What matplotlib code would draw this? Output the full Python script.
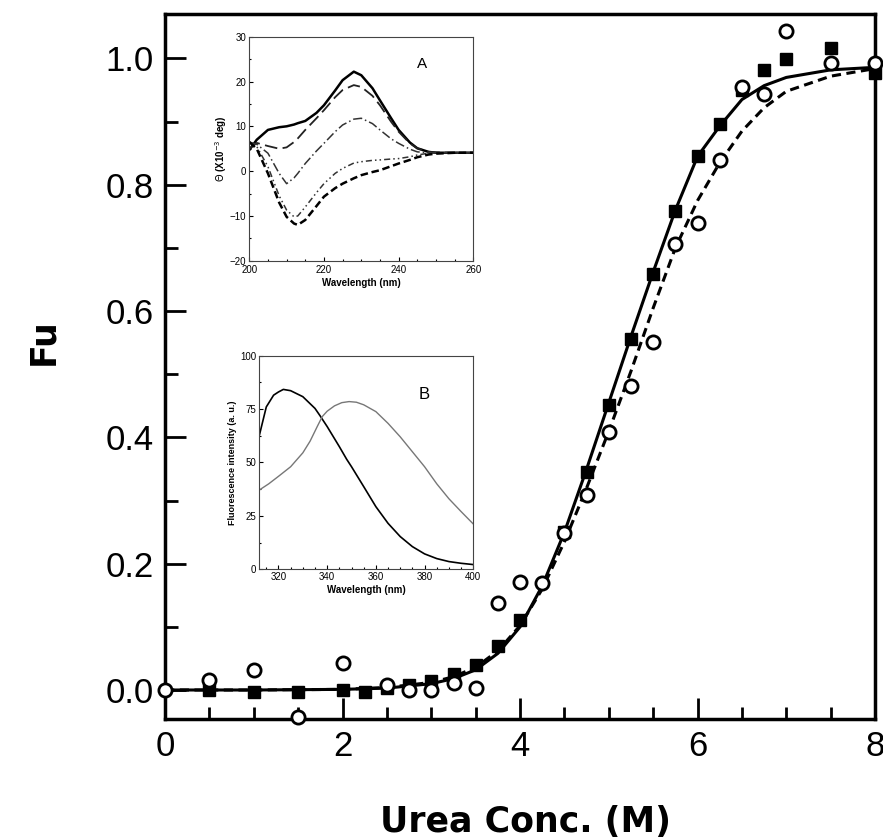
import matplotlib
matplotlib.use("Agg")
import matplotlib.pyplot as plt
from matplotlib.ticker import MultipleLocator

plt.rcParams['font.family'] = ['Liberation Sans', 'DejaVu Sans']

# ---------------- main data ----------------
urea_sq = [0.5, 1.0, 1.5, 2.0, 2.25, 2.5, 2.75, 3.0, 3.25, 3.5, 3.75, 4.0, 4.5, 4.75,
           5.0, 5.25, 5.5, 5.75, 6.0, 6.25, 6.5, 6.75, 7.0, 7.5, 8.0]
fu_sq = [0.0, -0.003, -0.003, 0.0, -0.003, 0.003, 0.008, 0.015, 0.025, 0.040, 0.069, 0.111,
         0.25, 0.345, 0.452, 0.556, 0.659, 0.759, 0.845, 0.897, 0.95, 0.981, 0.999, 1.016, 0.977]

urea_ci = [0.0, 0.5, 1.0, 1.5, 2.0, 2.5, 2.75, 3.0, 3.25, 3.5, 3.75, 4.0, 4.25, 4.5, 4.75,
           5.0, 5.25, 5.5, 5.75, 6.0, 6.25, 6.5, 6.75, 7.0, 7.5, 8.0]
fu_ci = [0.0, 0.016, 0.031, -0.042, 0.043, 0.008, 0.0, 0.0, 0.011, 0.003, 0.137, 0.171, 0.169,
         0.249, 0.309, 0.409, 0.481, 0.551, 0.707, 0.740, 0.840, 0.955, 0.944, 1.043, 0.993, 0.993]

fit_x = [0.0, 1.0, 2.0, 2.5, 3.0, 3.25, 3.5, 3.75, 4.0, 4.25, 4.5, 4.75, 5.0, 5.25, 5.5,
         5.75, 6.0, 6.25, 6.5, 6.75, 7.0, 7.5, 8.0]
fit_solid = [0.0, 0.0, 0.001, 0.003, 0.010, 0.018, 0.032, 0.058, 0.100, 0.165, 0.250, 0.350,
             0.455, 0.560, 0.662, 0.760, 0.845, 0.893, 0.935, 0.957, 0.970, 0.982, 0.986]
fit_dash = [0.0, 0.0, 0.001, 0.004, 0.012, 0.021, 0.036, 0.062, 0.102, 0.160, 0.235, 0.320,
            0.410, 0.505, 0.605, 0.700, 0.775, 0.835, 0.885, 0.922, 0.948, 0.972, 0.984]

# ---------------- inset A (CD) ----------------
cd_wl = [200, 202, 205, 208, 210, 212, 213, 215, 218, 220, 223, 225, 228, 230, 233, 235,
         238, 240, 243, 245, 248, 250, 255, 260]
cd_1 = [4.7, 7.0, 9.2, 9.8, 10.0, 10.4, 10.7, 11.2, 13.0, 14.7, 18.0, 20.3, 22.2, 21.4,
        18.5, 15.8, 11.8, 9.2, 6.4, 5.1, 4.3, 4.1, 4.1, 4.1]
cd_2 = [5.0, 6.3, 5.6, 5.0, 5.3, 6.5, 7.3, 9.2, 11.8, 13.6, 16.5, 18.1, 19.2, 18.8, 16.8,
        14.7, 11.0, 8.8, 6.2, 5.1, 4.3, 4.2, 4.1, 4.1]
cd_3 = [6.5, 6.0, 4.0, -0.5, -2.8, -1.5, -0.5, 1.7, 4.5, 6.2, 8.8, 10.3, 11.6, 11.8, 10.6,
        9.2, 7.2, 6.2, 4.9, 4.3, 4.1, 4.1, 4.1, 4.1]
cd_4 = [6.5, 5.5, 1.0, -5.5, -8.7, -10.2, -10.0, -8.0, -4.8, -2.8, -0.5, 0.6, 1.8, 2.1,
        2.4, 2.5, 2.7, 2.8, 3.2, 3.6, 4.0, 4.1, 4.1, 4.1]
cd_5 = [6.5, 5.0, -0.5, -7.0, -10.2, -11.7, -12.0, -10.9, -7.8, -5.7, -3.8, -2.8, -1.6,
        -0.9, -0.2, 0.2, 1.1, 1.7, 2.5, 3.1, 3.7, 3.9, 4.1, 4.1]

# ---------------- inset B (fluorescence) ----------------
fl_wl_n = [312, 315, 318, 320, 322, 325, 330, 335, 337, 340, 345, 348, 350, 355, 360, 365,
           370, 375, 380, 385, 390, 395, 400]
fl_native = [62, 76, 81.5, 83, 84.2, 83.6, 80.8, 75.3, 72.0, 66.8, 57.4, 51.5, 48, 38.7,
             29.3, 21.5, 15.3, 10.6, 7.2, 5.0, 3.6, 2.8, 2.2]
fl_wl_u = [312, 316, 320, 325, 330, 333, 336, 338, 340, 343, 346, 349, 352, 355, 360, 365,
           370, 375, 380, 385, 390, 395, 400]
fl_unfold = [37, 40, 43.5, 48, 54.5, 60, 67, 71.5, 74, 76.5, 78, 78.5, 78.2, 77, 73.8,
             68.3, 62, 55, 48, 40, 33, 27, 21.2]

# ================= figure =================
fig = plt.figure(figsize=(8.83, 8.40), dpi=100)
ax = fig.add_axes([0.187, 0.144, 0.804, 0.839])

ax.plot(fit_x, fit_solid, color='black', lw=2.2, zorder=2)
ax.plot(fit_x, fit_dash, color='black', lw=2.2, ls=(0, (3, 1.8)), zorder=2)
ax.plot(urea_sq, fu_sq, ls='none', marker='s', ms=8.5, mfc='black', mec='black', zorder=3,
        clip_on=False)
ax.plot(urea_ci, fu_ci, ls='none', marker='o', ms=9.5, mfc='white', mec='black', mew=2.0,
        zorder=4, clip_on=False)

ax.set_xlim(0, 8)
ax.set_ylim(-0.046, 1.07)
ax.xaxis.set_major_locator(MultipleLocator(2))
ax.xaxis.set_minor_locator(MultipleLocator(0.5))
ax.yaxis.set_major_locator(MultipleLocator(0.2))
ax.yaxis.set_minor_locator(MultipleLocator(0.1))
ax.tick_params(which='both', direction='in', top=False, right=False, width=2,
               labelsize=25, pad=8)
ax.tick_params(which='major', length=15)
ax.tick_params(which='minor', length=9)
ax.set_xticks([0, 2, 4, 6, 8])
ax.set_xticklabels(['0', '2', '4', '6', '8'])
ax.set_yticks([0.0, 0.2, 0.4, 0.6, 0.8, 1.0])
ax.set_yticklabels(['0.0', '0.2', '0.4', '0.6', '0.8', '1.0'])
for s in ax.spines.values():
    s.set_linewidth(2.5)
ax.set_xlabel('Urea Conc. (M)', fontsize=25, fontweight='bold',
              family=['DejaVu Sans'])
ax.set_ylabel('Fu', fontsize=25, fontweight='bold', family=['DejaVu Sans'])
ax.xaxis.set_label_coords(0.507, -0.146)
ax.xaxis.label.set_va('center')
ax.yaxis.set_label_coords(-0.172, 0.535)
ax.yaxis.label.set_va('center')

# ---------- inset A ----------
axa = fig.add_axes([0.2823, 0.6896, 0.2537, 0.2667])
axa.plot(cd_wl, cd_1, color='black', lw=1.8)
axa.plot(cd_wl, cd_2, color='#222222', lw=1.3, ls=(0, (7, 3)))
axa.plot(cd_wl, cd_3, color='#333333', lw=1.1, ls=(0, (6, 2, 1, 2)))
axa.plot(cd_wl, cd_4, color='#333333', lw=1.1, ls=(0, (4, 2, 1, 2, 1, 2)))
axa.plot(cd_wl, cd_5, color='black', lw=1.8, ls=(0, (3, 1.5)))
axa.set_xlim(200, 260)
axa.set_ylim(-20, 30)
axa.set_xticks([200, 220, 240, 260])
axa.set_yticks([-20, -10, 0, 10, 20, 30])
axa.xaxis.set_minor_locator(MultipleLocator(5))
axa.yaxis.set_minor_locator(MultipleLocator(5))
axa.tick_params(which='both', direction='in', labelsize=7, pad=2, width=0.8)
axa.tick_params(axis='x', pad=3)
axa.tick_params(which='major', length=3)
axa.tick_params(which='minor', length=1.5)
for s in axa.spines.values():
    s.set_linewidth(0.8)
    s.set_color('#444444')
axa.set_xlabel('Wavelength (nm)', fontsize=7, fontweight='bold', labelpad=2)
axa.set_ylabel(r'$\Theta$ (X10$^{-3}$ deg)', fontsize=7, fontweight='bold', labelpad=1)
axa.text(0.77, 0.88, 'A', transform=axa.transAxes, fontsize=11, ha='center', va='center')

# ---------- inset B ----------
axb = fig.add_axes([0.2933, 0.3223, 0.2427, 0.2543])
axb.plot(fl_wl_n, fl_native, color='black', lw=1.2)
axb.plot(fl_wl_u, fl_unfold, color='#777777', lw=1.0)
axb.set_xlim(312, 400)
axb.set_ylim(0, 100)
axb.set_xticks([320, 340, 360, 380, 400])
axb.set_yticks([0, 25, 50, 75, 100])
axb.xaxis.set_minor_locator(MultipleLocator(5))
axb.yaxis.set_minor_locator(MultipleLocator(12.5))
axb.tick_params(which='both', direction='in', labelsize=7, pad=2, width=0.8)
axb.tick_params(which='major', length=3)
axb.tick_params(which='minor', length=1.5)
for s in axb.spines.values():
    s.set_linewidth(0.8)
    s.set_color('#444444')
axb.set_xlabel('Wavelength (nm)', fontsize=7, fontweight='bold', labelpad=2)
axb.set_ylabel('Fluorescence intensity (a. u.)', fontsize=6.5, fontweight='bold', labelpad=2)
axb.text(0.77, 0.82, 'B', transform=axb.transAxes, fontsize=12, ha='center', va='center')

fig.savefig('out.png', dpi=100)
